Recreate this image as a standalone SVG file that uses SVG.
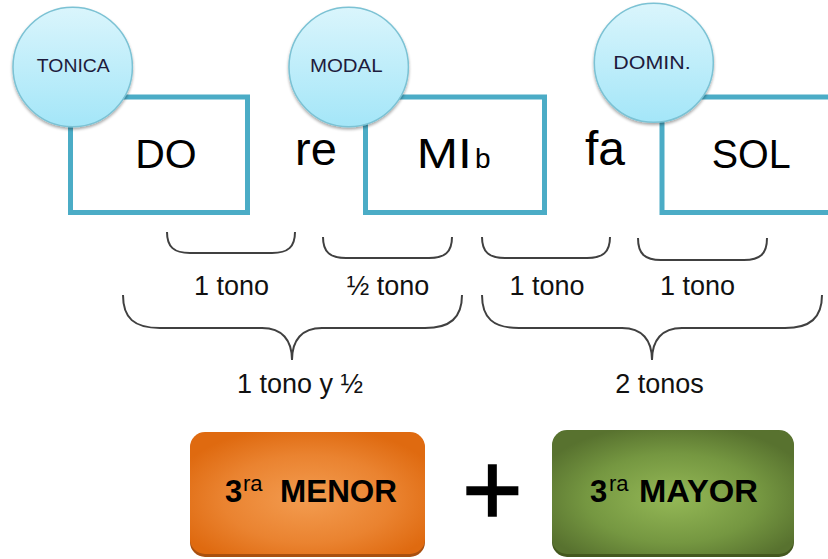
<svg xmlns="http://www.w3.org/2000/svg" width="828" height="559" viewBox="0 0 828 559">
<defs>
<linearGradient id="circ" x1="0" y1="0" x2="0" y2="1">
<stop offset="0" stop-color="#DAF5FC"/>
<stop offset="1" stop-color="#A4E6F8"/>
</linearGradient>
<radialGradient id="orange" cx="0.5" cy="0.55" r="0.6">
<stop offset="0" stop-color="#F39C50"/>
<stop offset="0.6" stop-color="#EA8330"/>
<stop offset="1" stop-color="#DF6A10"/>
</radialGradient>
<radialGradient id="green" cx="0.5" cy="0.55" r="0.6">
<stop offset="0" stop-color="#94B856"/>
<stop offset="0.6" stop-color="#759741"/>
<stop offset="1" stop-color="#58722F"/>
</radialGradient>
<filter id="sh" x="-10%" y="-10%" width="120%" height="125%">
<feGaussianBlur in="SourceAlpha" stdDeviation="1.5"/>
<feOffset dx="0" dy="2" result="b"/>
<feComponentTransfer><feFuncA type="linear" slope="0.35"/></feComponentTransfer>
<feMerge><feMergeNode/><feMergeNode in="SourceGraphic"/></feMerge>
</filter>
</defs>
<style>
.box{fill:#fff;stroke:#4BACC6;stroke-width:5}
.circ{fill:url(#circ);stroke:#7BC2D4;stroke-width:1.5}
.clab{font-family:"Liberation Sans",Arial,sans-serif;font-size:19px;fill:#1E1B3C;text-anchor:middle}
.big{font-family:"Liberation Sans",Arial,sans-serif;fill:#000}
.brace{fill:none;stroke:#404040;stroke-width:2}
.lab{font-family:"Liberation Sans",Arial,sans-serif;font-size:27px;fill:#111;text-anchor:middle}
.res{font-family:"Liberation Sans",Arial,sans-serif;font-weight:bold;font-size:31px;fill:#000}
.sup{font-weight:normal;font-size:22px}
</style>
<rect width="828" height="559" fill="#fff"/>

<g id="do">
<rect class="box" x="70.5" y="97" width="177" height="115.5"/>
<text class="big" x="166" y="168" font-size="41" text-anchor="middle">DO</text>
</g>
<g id="tonica">
<circle class="circ" cx="72.7" cy="67" r="59.7" filter="url(#sh)"/>
<text class="clab" x="73.3" y="72.3" textLength="73" lengthAdjust="spacingAndGlyphs">TONICA</text>
</g>
<g id="re">
<text class="big" x="316" y="165" font-size="47" text-anchor="middle">re</text>
</g>
<g id="mib">
<rect class="box" x="365.5" y="97" width="179" height="115.5"/>
<text class="big" x="416.7" y="168.3" font-size="42" textLength="55" lengthAdjust="spacingAndGlyphs">MI</text>
<text class="big" x="475" y="168.3" font-size="28">b</text>
</g>
<g id="modal">
<circle class="circ" cx="348.7" cy="67" r="59.7" filter="url(#sh)"/>
<text class="clab" x="346.3" y="72.3" textLength="72.7" lengthAdjust="spacingAndGlyphs">MODAL</text>
</g>
<g id="fa">
<text class="big" x="605" y="165" font-size="48" text-anchor="middle">fa</text>
</g>
<g id="sol">
<rect class="box" x="662" y="97" width="180" height="115.5"/>
<text class="big" x="711.7" y="168.3" font-size="41" textLength="79" lengthAdjust="spacingAndGlyphs">SOL</text>
</g>
<g id="domin">
<circle class="circ" cx="653.8" cy="62.8" r="59.5" filter="url(#sh)"/>
<text class="clab" x="652" y="69" textLength="77.4" lengthAdjust="spacingAndGlyphs">DOMIN.</text>
</g>

<g id="connectors">
<path class="brace" d="M167,232 C167,247 174,253 190,253 L272,253 C288,253 295,247 295,232"/>
<path class="brace" d="M323,237 C323,252 330,258 346,258 L429,258 C445,258 452,252 452,237"/>
<path class="brace" d="M482,237 C482,252 489,258 505,258 L587,258 C603,258 610,252 610,237"/>
<path class="brace" d="M638,238 C638,254 645,260 661,260 L744,260 C760,260 767,254 767,238"/>
<path class="brace" d="M123,295 C123,318 134,328 160,328 L262,328 C282,328 292,340 292,360 C292,340 302,328 322,328 L425,328 C450,328 462,318 462,295"/>
<path class="brace" d="M482,295 C482,318 493,328 519,328 L622,328 C642,328 652,340 652,360 C652,340 662,328 682,328 L785,328 C810,328 822,318 822,295"/>
</g>

<g id="labels">
<text class="lab" x="231.5" y="295">1 tono</text>
<text class="lab" x="388" y="295">½ tono</text>
<text class="lab" x="547" y="295">1 tono</text>
<text class="lab" x="697.5" y="295">1 tono</text>
<text class="lab" x="300" y="393">1 tono y ½</text>
<text class="lab" x="659.5" y="393">2 tonos</text>
</g>

<g id="menor">
<rect x="190" y="434" width="235" height="123" rx="15" fill="#A9500F"/>
<rect x="190" y="432" width="235" height="122" rx="15" fill="url(#orange)"/>
<text class="res" x="225" y="502">3<tspan class="sup" x="243" y="491">ra</tspan><tspan x="280" y="502" textLength="117" lengthAdjust="spacingAndGlyphs">MENOR</tspan></text>
</g>
<g id="plus">
<text x="462" y="525" font-family="'Liberation Sans',Arial,sans-serif" font-size="104" fill="#000" stroke="#000" stroke-width="1.5">+</text>
</g>
<g id="mayor">
<rect x="552" y="432" width="242" height="125" rx="15" fill="#44581F"/>
<rect x="552" y="430" width="242" height="124" rx="15" fill="url(#green)"/>
<text class="res" x="590" y="502">3<tspan class="sup" x="609" y="491">ra</tspan><tspan x="639" y="502" textLength="119" lengthAdjust="spacingAndGlyphs">MAYOR</tspan></text>
</g>
</svg>
